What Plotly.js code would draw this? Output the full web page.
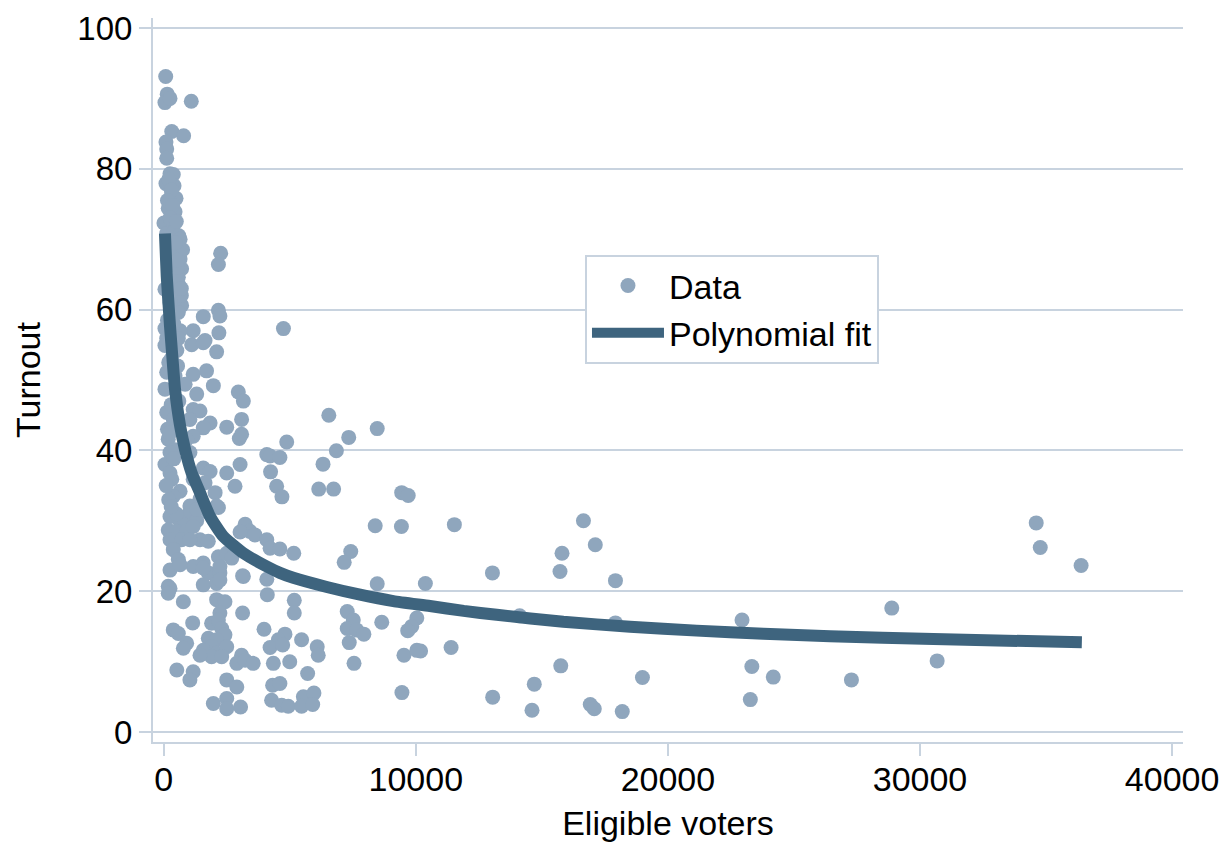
<!DOCTYPE html>
<html>
<head>
<meta charset="utf-8">
<script src="https://cdn.plot.ly/plotly-3.0.1.min.js"></script>
<style>
html,body{margin:0;padding:0;background:#fff;}
#chart{width:1226px;height:842px;}
</style>
</head>
<body>
<div id="chart"></div>
<script>
// Scatter data: eligible voters (x) and turnout % (y)
const voters = [
80,140,50,250,1095,
320,790,90,120,120,
250,380,90,410,320,490,180,450,10,380,120,
520,650,710,580,2260,2170,
50,380,710,580,2170,2230,1570,
1170,1640,2190,50,120,650,580,1110,2100,4750,
50,520,1570,
120,450,1170,1700,1970,850,1310,50,2960,3160,
120,380,1170,1440,1040,1840,1570,1170,910,2500,3090,3000,3090,
180,450,250,1040,
50,250,1570,1840,2500,2830,3030,
320,650,380,1170,1640,2040,2170,1770,1440,
1040,910,1310,2100,1310,
250,650,180,520,910,1170,1440,1770,250,710,1040,
3230,3420,3030,3620,
380,250,180,580,1170,1570,1770,2230,2170,2500,3160,2700,
650,1570,2230,250,180,1570,2100,2230,3130,
780,2100,2430,2230,3130,
1150,380,580,910,780,
1900,2170,2300,2430,1770,2100,1900,1570,2100,2500,1900,2300,1440,
3090,2900,3230,3550,
520,1170,1040,2500,2900,
1970,2500,2500,3050,
4090,4220,4610,4880,4240,4480,4690,6150,6740,6320,6850,7340,8470,6550,
4090,4220,4610,5160,7420,7160,
8470,10380,4090,4110,5180,5180,
7280,7520,7280,7650,7940,8650,
10040,9840,9680,3980,
4810,4550,4220,4720,5470,6090,6130,4350,5000,7360,7550,
9530,10190,10040,5710,4320,4610,9450,
4280,4680,4940,5540,5960,5470,5910,
9440,9700,8390,9430,
11530,16650,17120,15800,15720,13040,17920,14120,17920,22940,11400,15750,23330,24180,18990,14700,13050,23270,16920,17080,14610,18190,
36390,28880,30680,27280,34610,34770,
200,300,150,350,250,400,300,400,550,600,450,700,250,150,400,300,200,550,600,300,150,250,400,100,200,500,300,
600,750,500,650,450,350,700,550
];
const turnout = [
93.1,90.6,89.4,90.0,89.6,
85.3,84.7,83.8,82.8,81.5,
79.3,79.2,77.9,77.6,76.3,75.8,74.4,73.9,72.3,72.0,70.8,
69.1,67.2,65.8,64.6,68.0,66.4,
62.9,62.5,60.6,59.6,59.9,59.1,59.0,
57.0,55.6,56.7,57.3,55.9,57.0,55.9,55.0,54.0,57.3,
54.9,54.2,55.3,
51.1,50.6,50.8,51.3,49.2,49.4,48.0,48.7,48.3,47.0,
45.4,44.4,45.8,45.6,44.4,43.9,43.2,42.0,41.6,43.3,44.4,41.7,42.3,
41.6,40.1,39.7,39.7,
38.0,36.8,37.5,37.0,36.8,34.9,38.0,
35.9,34.2,33.5,35.9,35.4,34.0,31.9,31.2,33.1,
32.1,30.7,30.0,32.1,31.6,
30.6,29.9,28.7,28.5,28.5,29.2,27.3,27.1,27.3,27.3,27.3,
29.5,28.5,28.4,28.0,
25.9,23.0,20.7,24.5,23.5,24.0,22.6,22.6,24.9,25.4,22.1,24.7,
23.75,23.3,23.5,20.4,19.7,20.9,21.1,21.6,22.2,
18.5,18.8,18.5,16.9,16.9,
15.5,14.5,14.0,12.6,11.9,
15.45,15.9,14.7,13.8,13.3,13.1,12.1,11.6,11.2,12.1,10.7,10.7,10.9,
10.9,9.75,10.2,9.75,
8.8,8.55,7.4,7.4,6.4,
4.05,4.75,3.3,3.55,
39.4,39.2,39.0,41.2,36.95,34.9,33.4,34.5,34.5,38.05,39.95,41.85,43.1,45.0,
27.3,26.1,26.0,25.4,25.65,24.1,
21.05,21.1,21.7,19.5,18.7,16.9,
17.1,15.9,14.7,14.5,13.9,15.6,
16.2,15.0,14.4,14.6,
13.9,13.1,12.0,12.35,13.1,12.1,10.9,9.75,9.98,12.7,9.75,
10.9,11.5,11.6,8.3,6.65,6.9,5.6,
4.5,3.8,3.66,5.0,5.55,3.66,3.9,
34.0,33.6,29.3,29.2,
29.45,30.0,26.6,25.4,22.8,22.6,21.5,16.5,15.5,15.9,12.0,9.4,9.3,7.8,7.75,6.8,4.95,4.6,3.9,3.3,3.1,2.9,
23.65,17.6,10.1,7.4,29.7,26.2,
78.5,77.0,75.5,74.8,73.0,71.0,68.0,66.8,66.0,63.5,61.5,62.0,61.0,58.5,58.0,53.0,52.5,52.0,47.0,46.5,43.0,42.5,38.8,35.0,33.0,31.0,32.0,
70.5,68.5,72.5,70.0,69.5,67.5,63.0,67.0
];

// Fitted curve
const fitVoters = [50,120,250,350,450,650,850,1110,1440,1840,2360,3160,4090,4610,5140,6470,7790,9110,10560,11900,13210,15850,18500,21140,23790,26430,30530,36420];
const fitTurnout = [70.8,64.8,57.7,53.0,48.7,43.5,40.1,36.8,34.0,30.6,27.8,25.4,23.5,22.6,21.9,20.6,19.5,18.6,17.9,17.2,16.65,15.65,14.95,14.4,13.95,13.6,13.2,12.75];

const xTicks = [0,10000,20000,30000,40000];
const xTickLabels = ["0","10000","20000","30000","40000"];
const yTicks = [0,20,40,60,80,100];
const yTickLabels = ["0","20","40","60","80","100"];

const FONT = "Liberation Sans, Arial, sans-serif";
const GRID = "#c8d3df";

const traces = [
  {
    type: "scatter", mode: "markers", name: "Data",
    x: voters, y: turnout,
    marker: {color: "#8fa6bd", size: 15, line: {width: 0}},
    hoverinfo: "skip"
  },
  {
    type: "scatter", mode: "lines", name: "Polynomial fit",
    x: fitVoters, y: fitTurnout,
    line: {color: "#3e647e", width: 12, shape: "spline", smoothing: 0.5},
    hoverinfo: "skip"
  }
];

const layout = {
  width: 1226, height: 842,
  margin: {l: 153, r: 43, t: 18, b: 100, pad: 0},
  paper_bgcolor: "#fff", plot_bgcolor: "#fff",
  font: {family: FONT, size: 34, color: "#000"},
  showlegend: true,
  legend: {
    x: 0.4194, y: 0.6727, xanchor: "left", yanchor: "top",
    bgcolor: "#fff", bordercolor: GRID, borderwidth: 2,
    font: {family: FONT, size: 34, color: "#000"},
    itemwidth: 72
  },
  xaxis: {
    range: [-424, 40432],
    tickvals: xTicks, ticktext: xTickLabels,
    ticks: "outside", ticklen: 12, tickwidth: 2, tickcolor: GRID,
    ticklabelstandoff: -6,
    showgrid: false, zeroline: false,
    showline: true, linecolor: GRID, linewidth: 2,
    tickfont: {family: FONT, size: 34, color: "#000"},
    title: {text: "Eligible voters", font: {family: FONT, size: 34, color: "#000"}, standoff: 16}
  },
  yaxis: {
    range: [-1.42, 101.42],
    tickvals: yTicks, ticktext: yTickLabels,
    ticks: "outside", ticklen: 12, tickwidth: 2, tickcolor: GRID,
    showgrid: true, gridcolor: GRID, gridwidth: 2, zeroline: false,
    showline: true, linecolor: GRID, linewidth: 2,
    tickfont: {family: FONT, size: 33, color: "#000"},
    title: {text: "Turnout", font: {family: FONT, size: 34, color: "#000"}, standoff: 26}
  }
};

Plotly.newPlot("chart", traces, layout, {staticPlot: true, displayModeBar: false});
</script>
</body>
</html>
